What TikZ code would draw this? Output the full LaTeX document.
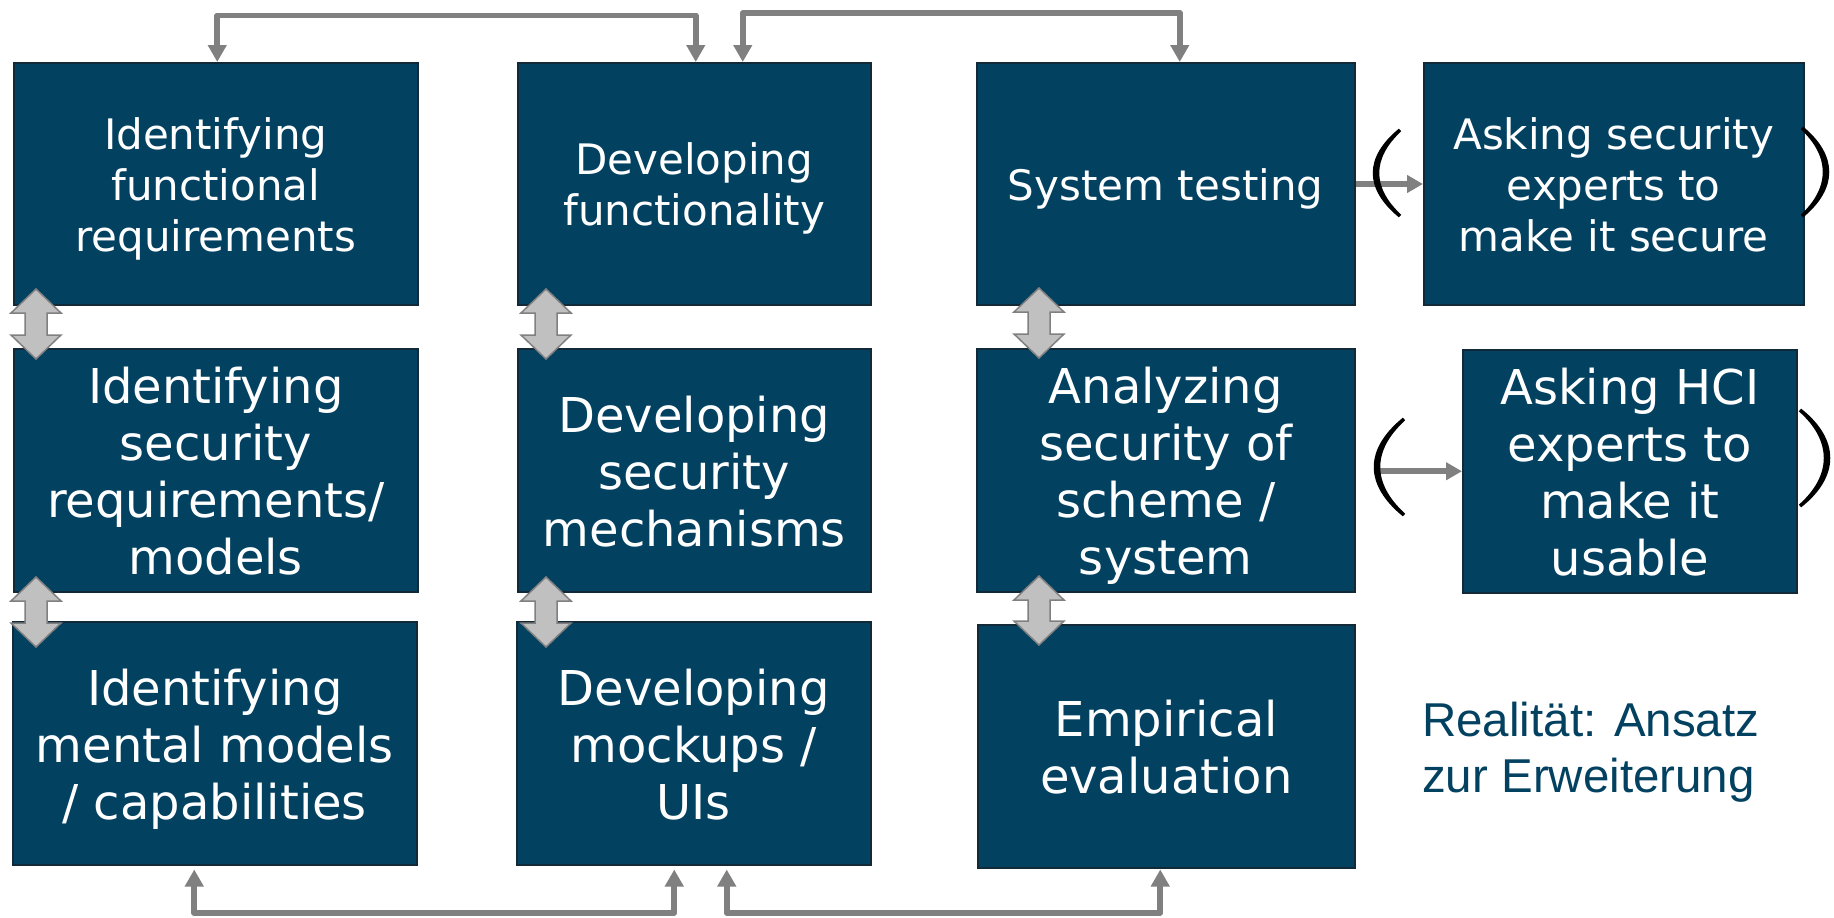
\documentclass[tikz,border=0pt]{standalone}
\usepackage{fontspec}
\setmainfont{DejaVu Sans}
\newfontfamily\arialfont{Liberation Sans}
\usetikzlibrary{arrows.meta,calc}
\definecolor{boxblue}{RGB}{3,65,97}
\definecolor{boxedge}{RGB}{18,42,56}
\definecolor{conngray}{RGB}{128,128,128}
\definecolor{dafill}{RGB}{192,192,192}
\definecolor{daedge}{RGB}{128,128,128}
\newcommand\fstrut{\rule{0pt}{1.04em}}
\newcommand\lstrut{\rule[-0.25em]{0pt}{0.25em}}
\newcommand\dblarrow[3]{%
 \draw[darrow] (#1,#2) -- (#1+25,#2+24) -- (#1+11,#2+24) -- (#1+11,#3-24) -- (#1+25,#3-24) -- (#1,#3) -- (#1-25,#3-24) -- (#1-11,#3-24) -- (#1-11,#2+24) -- (#1-25,#2+24) -- cycle;}
\begin{document}
\begin{tikzpicture}[x=1pt,y=-1pt,
  box/.style={draw=boxedge, line width=1.5pt, fill=boxblue, text=white, inner sep=0pt, align=center, anchor=north west},
  smalltxt/.style={font=\fontsize{42}{51}\selectfont},
  bigtxt/.style={font=\fontsize{48}{57}\selectfont},
  conn/.style={draw=conngray, line width=5.8pt, line join=round, {Triangle[length=17pt,width=18pt]}-{Triangle[length=17pt,width=18pt]}},
  sideconn/.style={draw=conngray, line width=5.7pt, -{Triangle[length=16pt,width=17pt]}},
  darrow/.style={fill=dafill, draw=daedge, line width=1.5pt, line join=miter},
  paren/.style={fill=black, draw=black, line width=3.5pt}
]
\useasboundingbox[fill=white] (0,0) rectangle (1834,918);

% boxes
\node[box, smalltxt, minimum width=404, minimum height=242] (b1) at (13,62) {\fstrut Identifying\\functional\\requirements\lstrut};
\node[box, smalltxt, minimum width=353, minimum height=242] (b2) at (517,62) {\fstrut Developing\\functionality\lstrut};
\node[box, smalltxt, minimum width=378, minimum height=242] (b3) at (976,62) {\fstrut System testing\lstrut};
\node[box, smalltxt, minimum width=380, minimum height=242] (b4) at (1423,62) {\fstrut Asking security\\experts to\\make it secure\lstrut};

\node[box, bigtxt, minimum width=404, minimum height=243] (b5) at (13,348) {\fstrut Identifying\\security\\requirements/\\models\lstrut};
\node[box, bigtxt, minimum width=353, minimum height=243] (b6) at (517,348) {\fstrut Developing\\security\\mechanisms\lstrut};
\node[box, bigtxt, minimum width=378, minimum height=243] (b7) at (976,348) {\fstrut Analyzing\\security of\\scheme /\\system\lstrut};
\node[box, bigtxt, minimum width=334, minimum height=243] (b8) at (1462,349) {\fstrut Asking HCI\\experts to\\make it\\usable\lstrut};

\node[box, bigtxt, minimum width=404, minimum height=243] (b9) at (12,621) {\fstrut Identifying\\mental models\\/ capabilities\lstrut};
\node[box, bigtxt, minimum width=354, minimum height=243] (b10) at (516,621) {\fstrut Developing\\mockups /\\UIs\lstrut};
\node[box, bigtxt, minimum width=377, minimum height=243] (b11) at (977,624) {\fstrut Empirical\\evaluation\lstrut};

\node[anchor=west, font=\arialfont\fontsize{47.5}{56}\selectfont, text=boxblue, align=left, inner sep=0pt] (note) at (1422,752) {Realität: Ansatz\\zur Erweiterung};

% vertical double arrows
\dblarrow{36}{289}{359}
\dblarrow{36}{577}{647}
\dblarrow{546}{289}{359}
\dblarrow{546}{577}{647}
\dblarrow{1039}{288}{358}
\dblarrow{1039}{576}{645}

% top elbow connectors
\coordinate (tA) at (0,15.5);
\coordinate (tB) at (0,13);
\coordinate (a1) at ([xshift=1.5pt]b1.north);
\coordinate (a2) at ([xshift=1.5pt]b2.north);
\coordinate (a3) at ([xshift=48.5pt]b2.north);
\coordinate (a4) at ([xshift=14pt]b3.north);
\draw[conn] (a1) -- (a1 |- tA) -| (a2);
\draw[conn] (a3) -- (a3 |- tB) -| (a4);

% bottom elbow connectors
\coordinate (bA) at (0,913);
\coordinate (c1) at ([xshift=-20.5pt]b9.south);
\coordinate (c2) at ([xshift=-19.5pt]b10.south);
\coordinate (c3) at ([xshift=33pt]b10.south);
\coordinate (c4) at ([xshift=-6pt]b11.south);
\draw[conn, shorten <=4pt, shorten >=4pt] (c1) -- (c1 |- bA) -| (c2);
\draw[conn, shorten <=4pt, shorten >=1pt] (c3) -- (c3 |- bA) -| (c4);

% side arrows
\draw[sideconn] (b3.east |- 0,184) -- (b4.west |- 0,184);
\coordinate (s7) at ([xshift=18pt]b7.east);
\draw[sideconn] (s7 |- b8.west) -- (b8.west);

% parentheses
\filldraw[paren] (1400,130) .. controls (1366,158) and (1366,188) .. (1400,216) .. controls (1370,188) and (1370,158) .. cycle;
\filldraw[paren] (1802,128) .. controls (1836,156) and (1836,188) .. (1802,216) .. controls (1832,188) and (1832,156) .. cycle;
\filldraw[paren] (1404,419) .. controls (1366,450) and (1366,484) .. (1404,515) .. controls (1370,484) and (1370,450) .. cycle;
\filldraw[paren] (1800,410) .. controls (1838,440) and (1838,476) .. (1800,506) .. controls (1834,476) and (1834,440) .. cycle;
\end{tikzpicture}
\end{document}
